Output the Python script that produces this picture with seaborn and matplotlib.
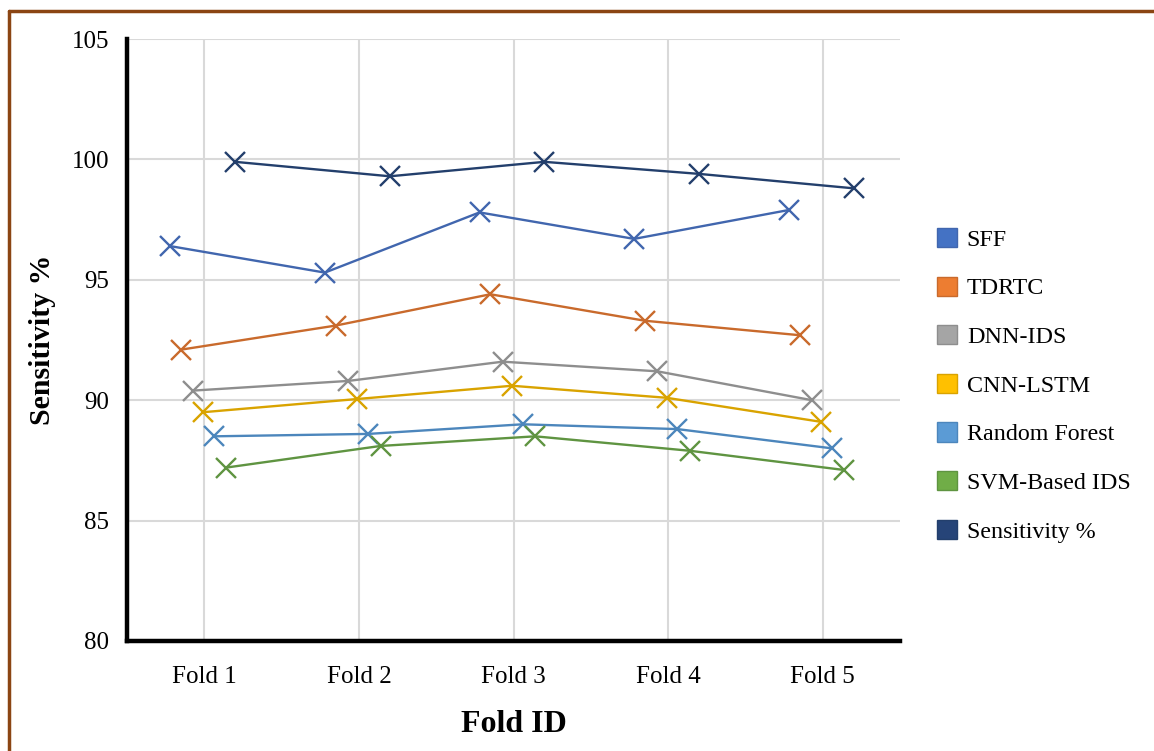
import numpy as np
import pandas as pd
import matplotlib
matplotlib.use("Agg")
import matplotlib.pyplot as plt
import seaborn as sns
from matplotlib.patches import Patch
from matplotlib.lines import Line2D

folds = ["Fold 1", "Fold 2", "Fold 3", "Fold 4", "Fold 5"]
series_names = ["SFF", "TDRTC", "DNN-IDS", "CNN-LSTM", "Random Forest", "SVM-Based IDS", "Sensitivity %"]
sff = [96.4, 95.3, 97.8, 96.7, 97.9]
tdrtc = [92.1, 93.1, 94.4, 93.3, 92.7]
dnn_ids = [90.4, 90.8, 91.6, 91.2, 90.0]
cnn_lstm = [89.5, 90.05, 90.6, 90.1, 89.1]
random_forest = [88.5, 88.6, 89.0, 88.8, 88.0]
svm_ids = [87.2, 88.1, 88.5, 87.9, 87.1]
sensitivity = [99.9, 99.3, 99.9, 99.4, 98.8]
values = [sff, tdrtc, dnn_ids, cnn_lstm, random_forest, svm_ids, sensitivity]

# styling (not data)
offsets = [-0.22, -0.15, -0.07, -0.01, 0.06, 0.14, 0.20]
line_colors = ["#4166AE", "#C96A2C", "#8E8E8E", "#D9A300", "#4C86BC", "#5F9441", "#233F6C"]
legend_colors = ["#4472C4", "#ED7D31", "#A5A5A5", "#FFC000", "#5B9BD5", "#70AD47", "#264478"]

rows = []
for name, vals, off in zip(series_names, values, offsets):
    for i, v in enumerate(vals):
        rows.append({"series": name, "x": i + 1 + off, "value": v})
df = pd.DataFrame(rows)

sns.set_theme(style="white")
plt.rcParams['font.family'] = ['Liberation Serif', 'DejaVu Serif']
plt.rcParams['text.color'] = 'black'
plt.rcParams['axes.labelcolor'] = 'black'
plt.rcParams['xtick.color'] = 'black'
plt.rcParams['ytick.color'] = 'black'

fig = plt.figure(figsize=(11.54, 7.51), dpi=100)
ax = fig.add_axes([0.110, 0.1465, 0.670, 0.8015])

sns.lineplot(data=df, x="x", y="value", hue="series", hue_order=series_names,
             palette=dict(zip(series_names, line_colors)), marker="x",
             markersize=14, linewidth=1.7, legend=False,
             ax=ax, estimator=None, sort=False)
for ln in ax.lines:
    ln.set_markeredgecolor(ln.get_color())
    ln.set_markeredgewidth(1.7)

ax.set_xlim(0.5, 5.5)
ax.set_ylim(80, 105)
ax.set_xticks(range(1, 6))
ax.set_xticklabels(folds, fontsize=18)
ax.set_yticks([80, 85, 90, 95, 100, 105])
ax.set_yticklabels(["80", "85", "90", "95", "100", "105"], fontsize=18)
ax.tick_params(axis='x', length=0, pad=18)
ax.tick_params(axis='y', length=0, pad=13)
ax.grid(True, color="#D9D9D9", linewidth=1.5)
ax.set_axisbelow(True)
for s in ["top", "right"]:
    ax.spines[s].set_visible(False)
for s in ["left", "bottom"]:
    ax.spines[s].set_color("black")
    ax.spines[s].set_linewidth(3.2)
ax.set_xlabel("Fold ID", fontsize=23, fontweight="bold", labelpad=16)
ax.set_ylabel("Sensitivity %", fontsize=21.5, fontweight="bold", labelpad=11)

handles = [Patch(facecolor=c, edgecolor=lc, linewidth=1.0) for c, lc in zip(legend_colors, line_colors)]
fig.legend(handles, series_names, loc="center left", bbox_to_anchor=(0.793, 0.487),
           frameon=False, fontsize=17.3, handlelength=0.85, handleheight=0.85,
           labelspacing=1.07, handletextpad=0.4)

# brown page border
fig.add_artist(Line2D([0.008, 1.0], [0.986, 0.986], transform=fig.transFigure, color="#8B4513", linewidth=2.5))
fig.add_artist(Line2D([0.008, 0.008], [0.0, 0.986], transform=fig.transFigure, color="#8B4513", linewidth=2.5))

fig.savefig("out.png", dpi=100, facecolor="white")
